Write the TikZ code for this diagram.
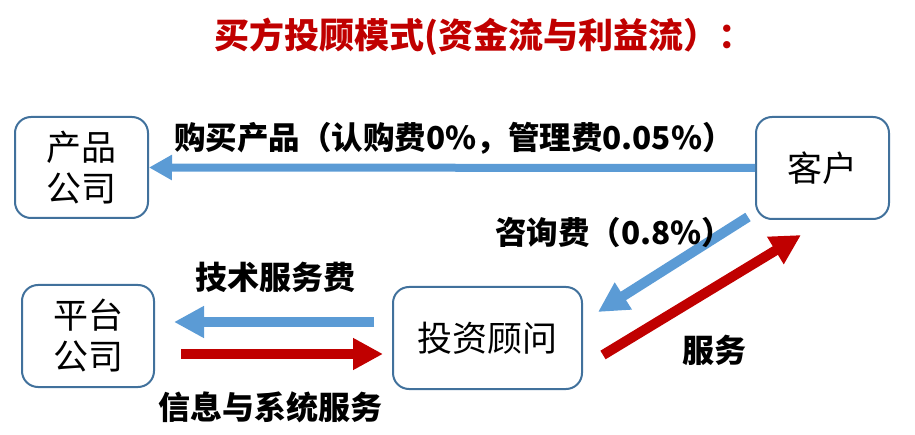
\documentclass[tikz,border=0pt]{standalone}
\usepackage{fontspec}
\setmainfont{Noto Sans CJK SC}
\usepackage{tikz}
\usetikzlibrary{arrows.meta}
\usetikzlibrary{positioning}
\usepackage{xcolor}
\definecolor{flowblue}{HTML}{5B9BD5}
\definecolor{flowred}{HTML}{C00000}
\definecolor{boxline}{HTML}{41719C}

\begin{document}
\begin{tikzpicture}[x=1pt,y=-1pt,
  party/.style={draw=boxline, line width=2pt, rounded corners=16pt, inner sep=0pt,
    align=center, font=\fontsize{35}{41}\selectfont},
  lbl/.style={font=\bfseries\fontsize{32}{36}\selectfont, inner sep=0pt},
  feearrow/.style={flowblue, line width=10pt, -{Triangle[length=30pt,width=30pt]}},
  servarrow/.style={flowred, line width=10pt, -{Triangle[length=30pt,width=30pt]}}]
\useasboundingbox (0,0) rectangle (915,435);
% title
\node[font=\bfseries\fontsize{35}{40}\selectfont, text=flowred, inner sep=0pt] (title) at (484,37) {买方投顾模式(资金流与利益流）：};
% boxes
\node[party, minimum width=133pt, minimum height=101pt] (chanpin) at (81.5,167.5) {产品\\公司};
\node[party, minimum width=133pt, minimum height=102pt] (kehu) at (822.5,168) {客户};
\node[party, minimum width=132pt, minimum height=102pt] (pingtai) at (88,336) {平台\\公司};
\node[party, minimum width=189pt, minimum height=102pt] (tougu) at (487.5,338) {投资顾问};
% purchase
\draw[flowblue, line width=8pt, -{Triangle[length=23pt,width=24pt]}] (kehu.west) -- (chanpin.east);
\node[lbl, font=\bfseries\fontsize{31.5}{36}\selectfont] (buy) at (454,138) {购买产品（认购费0\%，管理费0.05\%）};
% advisory fee and service
\coordinate (feeS) at (748,217);
\coordinate (feeE) at (598,312);
\coordinate (servS) at (603,355);
\coordinate (servE) at (801,235);
\draw[feearrow] (feeS) -- (feeE);
\draw[servarrow] (servS) -- (servE);
\node[lbl, font=\bfseries\fontsize{31.5}{36}\selectfont] (zixun) at (614,232) {咨询费（0.8\%）};
\node[lbl] (fuwu) at (714,350) {服务};
% platform
\coordinate (techS) at (374,322);
\coordinate (techE) at (174,322);
\coordinate (infoS) at (181,354);
\coordinate (infoE) at (383,354);
\draw[feearrow] (techS) -- (techE);
\draw[servarrow] (infoS) -- (infoE);
\node[lbl] (jishu) at (275,277) {技术服务费};
\node[lbl] (xinxi) at (270,407) {信息与系统服务};
\end{tikzpicture}
\end{document}
